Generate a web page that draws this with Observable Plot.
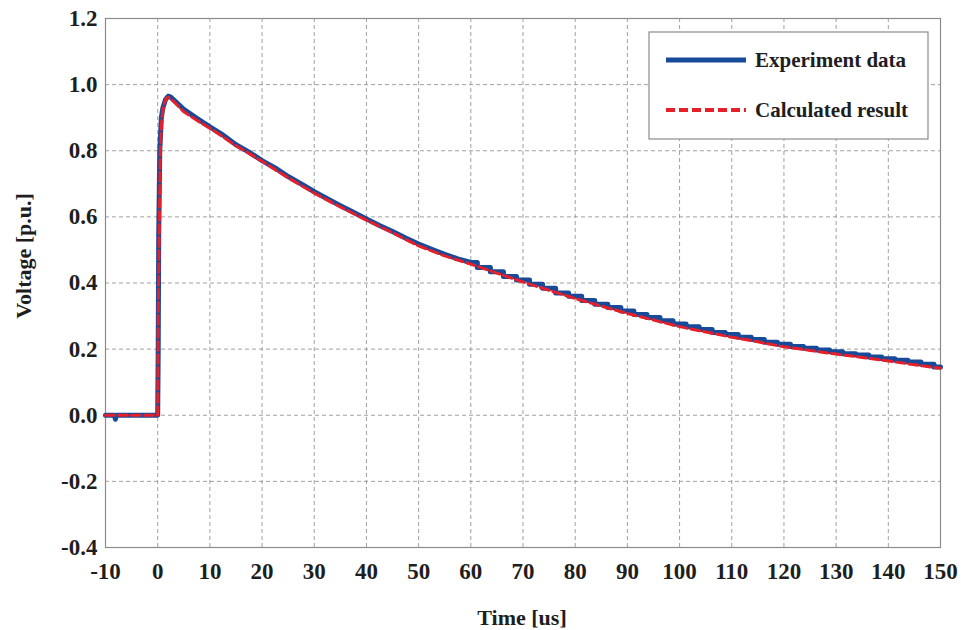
<!DOCTYPE html>
<html>
<head>
<meta charset="utf-8">
<script src="https://cdn.jsdelivr.net/npm/d3@7"></script>
<script src="https://cdn.jsdelivr.net/npm/@observablehq/plot@0.6"></script>
<style>
  html, body { margin: 0; padding: 0; background: #fff; }
  #chart { position: relative; width: 961px; height: 630px; }
</style>
</head>
<body>
<div id="chart"></div>
<script>
// Tick values
const xTicks = [-10, 0, 10, 20, 30, 40, 50, 60, 70, 80, 90, 100, 110, 120, 130, 140, 150];
const yTicks = [-0.4, -0.2, 0.0, 0.2, 0.4, 0.6, 0.8, 1.0, 1.2];

// Series names
const seriesNames = ["Experiment data", "Calculated result"];

// Experiment data (time in us, voltage in p.u.)
const expTime = [-10, -8.3, -8.1, -7.9, -0.2, 0, 0.1, 0.2, 0.4, 0.7, 1.0, 1.5, 2.0,
  2.5, 5, 7.5, 10, 12.5, 15, 17.5, 20, 22.5, 25, 27.5, 30, 32.5, 35, 37.5, 40,
  42.5, 45, 47.5, 50, 52.5, 55, 57.5, 60, 62.5, 65, 67.5, 70, 72.5, 75, 77.5, 80,
  82.5, 85, 87.5, 90, 92.5, 95, 97.5, 100, 102.5, 105, 107.5, 110, 112.5, 115, 117.5, 120,
  122.5, 125, 127.5, 130, 132.5, 135, 137.5, 140, 142.5, 145, 147.5, 150];
const expVolt = [0, 0, -0.012, 0, 0, 0, 0.2, 0.55, 0.8, 0.9, 0.93, 0.955, 0.965,
  0.962, 0.925, 0.898, 0.872, 0.848, 0.818, 0.796, 0.770, 0.748, 0.722, 0.700, 0.676, 0.655, 0.634, 0.614, 0.594,
  0.574, 0.556, 0.536, 0.518, 0.502, 0.487, 0.473, 0.462, 0.447, 0.434, 0.420, 0.409, 0.396, 0.384, 0.370, 0.360,
  0.347, 0.336, 0.326, 0.315, 0.305, 0.296, 0.286, 0.276, 0.268, 0.259, 0.250, 0.244, 0.236, 0.229, 0.221, 0.215,
  0.208, 0.203, 0.197, 0.192, 0.186, 0.182, 0.176, 0.171, 0.166, 0.161, 0.154, 0.146];

// Calculated result
const calcTime = [-10, 0, 0.1, 0.3, 0.5, 0.8, 1.2, 1.6, 2.0, 3, 5, 7.5, 10, 12.5, 15, 17.5, 20,
  25, 30, 35, 40, 45, 50, 55, 60, 65, 70, 75, 80, 85, 90, 95, 100, 105, 110, 115, 120,
  125, 130, 135, 140, 145, 150];
const calcVolt = [0, 0, 0.3, 0.56, 0.80, 0.90, 0.94, 0.958, 0.962, 0.950, 0.918, 0.892, 0.868, 0.842, 0.815, 0.792, 0.768,
  0.718, 0.672, 0.630, 0.590, 0.552, 0.512, 0.482, 0.457, 0.430, 0.403, 0.378, 0.353, 0.330, 0.308, 0.288, 0.268, 0.252, 0.236, 0.222, 0.207,
  0.196, 0.185, 0.175, 0.164, 0.153, 0.142];

const expData = expTime.map((t, i) => ({t, v: expVolt[i]}));
const calcData = calcTime.map((t, i) => ({t, v: calcVolt[i]}));

const blue = "#174a98";
const red = "#e5202b";
const fontFam = "'Liberation Serif', 'Times New Roman', 'DejaVu Serif', serif";
const fmt1 = d => (d < 0 ? "-" : "") + Math.abs(d).toFixed(1);
const fmt0 = d => (d < 0 ? "-" : "") + Math.abs(d);

const plot = Plot.plot({
  width: 961,
  height: 630,
  marginLeft: 105,
  marginRight: 21,
  marginTop: 18,
  marginBottom: 83,
  style: {fontFamily: fontFam, fontSize: "23px", fontWeight: "bold", color: "#1e1e1e", background: "#fff"},
  x: {domain: [-10, 150], ticks: xTicks},
  y: {domain: [-0.4, 1.2], ticks: yTicks},
  marks: [
    Plot.gridX(xTicks, {stroke: "#969696", strokeOpacity: 1, strokeDasharray: "4,3", strokeWidth: 0.9}),
    Plot.gridY(yTicks, {stroke: "#969696", strokeOpacity: 1, strokeDasharray: "4,3", strokeWidth: 0.9}),
    Plot.frame({stroke: "#8c8c8c", strokeWidth: 1.2}),
    // smooth early part, staircase tail (as the digitised record shows)
    Plot.line(expData.filter(d => d.t <= 60), {x: "t", y: "v", stroke: blue, strokeWidth: 5}),
    Plot.line(expData.filter(d => d.t >= 60), {x: "t", y: "v", stroke: blue, strokeWidth: 5, curve: "step"}),
    Plot.line(calcData, {x: "t", y: "v", stroke: red, strokeWidth: 3, strokeDasharray: "9,4"}),
    Plot.axisX(xTicks, {tickSize: 0, tickPadding: 15, tickFormat: fmt0, label: null}),
    Plot.axisY(yTicks, {tickSize: 0, tickPadding: 8, tickFormat: fmt1, label: null})
  ]
});

document.getElementById("chart").appendChild(plot);

// Axis titles and legend
const svg = d3.select(plot);
svg.append("text")
  .attr("x", 522).attr("y", 625)
  .attr("text-anchor", "middle")
  .attr("font-family", fontFam).attr("font-size", 22).attr("font-weight", "bold")
  .attr("fill", "#1e1e1e")
  .text("Time [us]");
svg.append("text")
  .attr("transform", "translate(31,256) rotate(-90)")
  .attr("text-anchor", "middle")
  .attr("font-family", fontFam).attr("font-size", 22).attr("font-weight", "bold")
  .attr("fill", "#1e1e1e")
  .text("Voltage [p.u.]");

const lg = svg.append("g");
lg.append("rect").attr("x", 649).attr("y", 32).attr("width", 279).attr("height", 107)
  .attr("fill", "#fff").attr("stroke", "#8c8c8c").attr("stroke-width", 1.2);
const styles = [{stroke: blue, w: 5, dash: null}, {stroke: red, w: 4, dash: "9,4"}];
seriesNames.forEach((name, i) => {
  const y = 60 + i * 50;
  const l = lg.append("line").attr("x1", 666).attr("x2", 746).attr("y1", y).attr("y2", y)
    .attr("stroke", styles[i].stroke).attr("stroke-width", styles[i].w);
  if (styles[i].dash) l.attr("stroke-dasharray", styles[i].dash);
  lg.append("text").attr("x", 755).attr("y", y + 7)
    .attr("text-anchor", "start")
    .attr("font-family", fontFam).attr("font-size", 21).attr("font-weight", "bold")
    .attr("fill", "#1e1e1e").text(name);
});
</script>
</body>
</html>
